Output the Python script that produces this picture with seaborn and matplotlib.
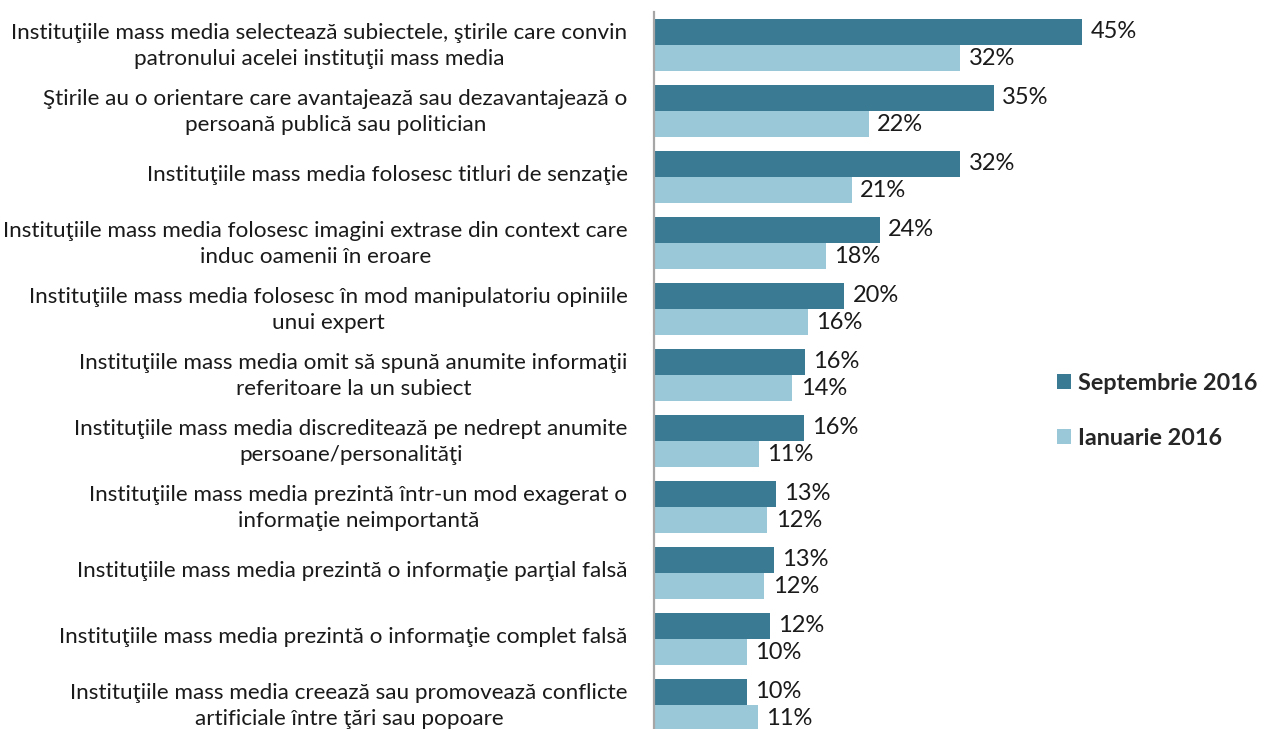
import pandas as pd
import matplotlib
matplotlib.use("Agg")
import matplotlib.pyplot as plt
from matplotlib.transforms import ScaledTranslation
import seaborn as sns

# survey items, top to bottom (wrapped as in the original)
items = [
    "Instituţiile mass media selectează subiectele, ştirile care convin\npatronului acelei instituţii mass media",
    "Ştirile au o orientare care avantajează sau dezavantajează o\npersoană publică sau politician",
    "Instituţiile mass media folosesc titluri de senzaţie",
    "Instituţiile mass media folosesc imagini extrase din context care\ninduc oamenii în eroare",
    "Instituţiile mass media folosesc în mod manipulatoriu opiniile\nunui expert",
    "Instituţiile mass media omit să spună anumite informaţii\nreferitoare la un subiect",
    "Instituţiile mass media discreditează pe nedrept anumite\npersoane/personalităţi",
    "Instituţiile mass media prezintă într-un mod exagerat o\ninformaţie neimportantă",
    "Instituţiile mass media prezintă o informaţie parţial falsă",
    "Instituţiile mass media prezintă o informaţie complet falsă",
    "Instituţiile mass media creează sau promovează conflicte\nartificiale între ţări sau popoare",
]

periods = ["Septembrie 2016", "Ianuarie 2016"]

# bar lengths (%)
sep_2016 = [44.6, 35.4, 31.9, 23.5, 19.8, 15.7, 15.6, 12.7, 12.5, 12.1, 9.7]
jan_2016 = [31.9, 22.4, 20.6, 17.9, 16.0, 14.4, 10.9, 11.8, 11.5, 9.7, 10.8]

# printed labels
sep_labels = ["45%", "35%", "32%", "24%", "20%", "16%", "16%", "13%", "13%", "12%", "10%"]
jan_labels = ["32%", "22%", "21%", "18%", "16%", "14%", "11%", "12%", "12%", "10%", "11%"]

df = pd.DataFrame({
    "item": items * 2,
    "value": sep_2016 + jan_2016,
    "period": [periods[0]] * len(items) + [periods[1]] * len(items),
})

dark = "#3A7A92"
light = "#9AC8D8"

sns.set_style("white")
plt.rcParams["font.family"] = ["Lato", "DejaVu Sans"]

fig = plt.figure(figsize=(12.66, 7.29), dpi=100)
ax = fig.add_axes([654 / 1266, 1 - 738 / 729, 480 / 1266, 726 / 729])

sns.barplot(data=df, y="item", x="value", hue="period", orient="h",
            palette=[dark, light], width=0.8, saturation=1, ax=ax,
            errorbar=None, legend=True, linewidth=0)

ax.set_xlim(0, 50)
ax.set_ylim(len(items) - 0.5, -0.5)
ax.set_xlabel("")
ax.set_ylabel("")
ax.set_xticks([])
for side in ["top", "right", "bottom"]:
    ax.spines[side].set_visible(False)
ax.spines["left"].set_color("#A6A6A6")
ax.spines["left"].set_linewidth(1.6)

ax.tick_params(axis="y", length=0, pad=19, labelsize=16.2)
# nudge the category labels up a little, like the original
lift = ScaledTranslation(0, 4 / 100, fig.dpi_scale_trans)
for tick in ax.yaxis.get_major_ticks():
    lab = tick.label1
    lab.set_transform(lab.get_transform() + lift)
    lab.set_multialignment("center")
    lab.set_linespacing(1.4)
    lab.set_color("#1a1a1a")

for cont, labs in zip(ax.containers, [sep_labels, jan_labels]):
    ax.bar_label(cont, labels=labs, padding=6, fontsize=17, color="#1a1a1a")

handles, labels = ax.get_legend_handles_labels()
ax.get_legend().remove()
fig.legend(handles, labels, loc="center left",
           bbox_to_anchor=(1057 / 1266, 1 - 411 / 729),
           frameon=False, borderpad=0, borderaxespad=0,
           handlelength=0.6, handleheight=0.6,
           handletextpad=0.3, labelspacing=1.45,
           prop={"weight": "bold", "size": 16.8})

fig.savefig("out.png", dpi=100)
